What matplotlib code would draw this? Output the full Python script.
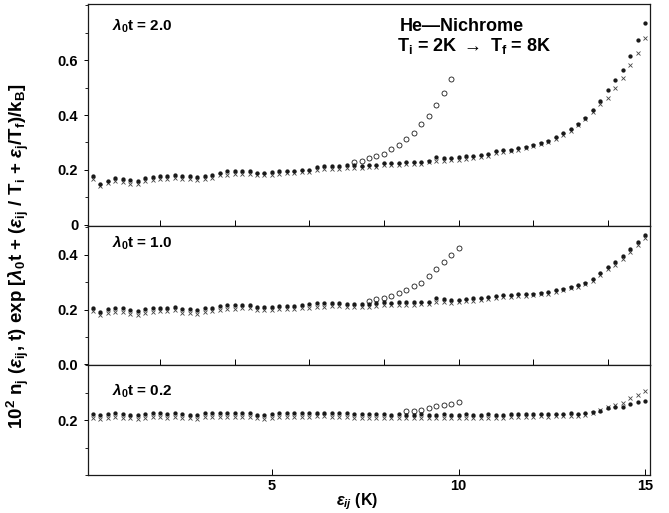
import numpy as np
import matplotlib
matplotlib.use('Agg')
import matplotlib.pyplot as plt
from matplotlib import gridspec
from matplotlib.ticker import MultipleLocator

plt.rcParams['font.family'] = ['Liberation Sans', 'DejaVu Sans']
plt.rcParams['mathtext.fontset'] = 'custom'
plt.rcParams['mathtext.rm'] = 'Liberation Sans:bold'
plt.rcParams['mathtext.it'] = 'Liberation Sans:italic:bold'
plt.rcParams['mathtext.bf'] = 'Liberation Sans:bold'

# energy grid, 0.2 K steps (75 bins)
energy = np.round(np.arange(1, 76) * 0.2, 1)

# lambda0 t = 2.0
dots_20 = [0.179, 0.149, 0.161, 0.171, 0.167, 0.163, 0.161, 0.169, 0.173, 0.177,
           0.179, 0.182, 0.179, 0.177, 0.173, 0.179, 0.182, 0.189, 0.194, 0.195,
           0.195, 0.195, 0.189, 0.189, 0.191, 0.194, 0.195, 0.197, 0.200, 0.201,
           0.209, 0.213, 0.213, 0.213, 0.216, 0.216, 0.213, 0.219, 0.219,
           0.224, 0.224, 0.225, 0.228, 0.230, 0.230, 0.234, 0.246, 0.244, 0.244,
           0.246, 0.250, 0.252, 0.255, 0.258, 0.267, 0.271, 0.274, 0.279, 0.285,
           0.292, 0.299, 0.307, 0.319, 0.334, 0.350, 0.368, 0.390, 0.417, 0.453,
           0.490, 0.527, 0.566, 0.615, 0.673, 0.735]
cross_20 = [0.165, 0.142, 0.152, 0.160, 0.155, 0.150, 0.148, 0.158, 0.163, 0.166,
            0.168, 0.170, 0.168, 0.166, 0.162, 0.168, 0.172, 0.180, 0.183, 0.185,
            0.184, 0.185, 0.180, 0.181, 0.183, 0.185, 0.187, 0.189, 0.191, 0.193,
            0.200, 0.203, 0.203, 0.204, 0.207, 0.207, 0.205, 0.210, 0.211,
            0.216, 0.217, 0.218, 0.220, 0.222, 0.223, 0.227, 0.234, 0.233, 0.235,
            0.236, 0.241, 0.244, 0.247, 0.251, 0.260, 0.265, 0.268, 0.273, 0.280,
            0.287, 0.293, 0.301, 0.313, 0.327, 0.343, 0.362, 0.385, 0.410, 0.439,
            0.463, 0.500, 0.536, 0.581, 0.628, 0.682]
circ_x_20 = energy[35:49]
circ_20 = [0.227, 0.232, 0.242, 0.251, 0.259, 0.275, 0.292, 0.311, 0.336, 0.368,
           0.396, 0.438, 0.480, 0.533]

# lambda0 t = 1.0
dots_10 = [0.207, 0.192, 0.201, 0.207, 0.204, 0.197, 0.194, 0.201, 0.204, 0.207,
           0.207, 0.210, 0.201, 0.201, 0.198, 0.204, 0.207, 0.213, 0.215, 0.215,
           0.217, 0.217, 0.209, 0.209, 0.210, 0.213, 0.213, 0.213, 0.215, 0.219,
           0.223, 0.223, 0.223, 0.225, 0.219, 0.219, 0.219, 0.222, 0.225,
           0.228, 0.225, 0.228, 0.228, 0.228, 0.229, 0.229, 0.241, 0.237, 0.235,
           0.235, 0.240, 0.241, 0.243, 0.247, 0.250, 0.252, 0.253, 0.255, 0.255,
           0.258, 0.262, 0.264, 0.270, 0.276, 0.283, 0.290, 0.298, 0.313, 0.335,
           0.357, 0.375, 0.396, 0.420, 0.448, 0.472]
cross_10 = [0.193, 0.180, 0.188, 0.192, 0.190, 0.184, 0.181, 0.188, 0.190, 0.194,
            0.195, 0.197, 0.189, 0.188, 0.185, 0.192, 0.195, 0.200, 0.202, 0.203,
            0.204, 0.205, 0.198, 0.197, 0.199, 0.201, 0.202, 0.201, 0.204, 0.207,
            0.211, 0.210, 0.212, 0.213, 0.208, 0.208, 0.209, 0.211, 0.214,
            0.217, 0.215, 0.217, 0.218, 0.218, 0.219, 0.219, 0.229, 0.226, 0.225,
            0.226, 0.231, 0.232, 0.235, 0.239, 0.243, 0.245, 0.246, 0.248, 0.249,
            0.252, 0.256, 0.258, 0.264, 0.270, 0.277, 0.284, 0.292, 0.306, 0.327,
            0.349, 0.363, 0.384, 0.410, 0.437, 0.462]
circ_x_10 = energy[37:50]
circ_10 = [0.233, 0.237, 0.241, 0.250, 0.259, 0.270, 0.286, 0.298, 0.323, 0.347,
           0.372, 0.400, 0.425]

# lambda0 t = 0.2
dots_02 = [0.223, 0.219, 0.223, 0.225, 0.223, 0.220, 0.219, 0.223, 0.225, 0.225,
           0.223, 0.227, 0.223, 0.220, 0.220, 0.225, 0.225, 0.226, 0.226, 0.226,
           0.225, 0.225, 0.220, 0.220, 0.223, 0.225, 0.225, 0.225, 0.225, 0.226,
           0.227, 0.227, 0.226, 0.225, 0.225, 0.223, 0.223, 0.223, 0.222,
           0.221, 0.220, 0.222, 0.220, 0.219, 0.221, 0.220, 0.218, 0.221, 0.219,
           0.220, 0.221, 0.220, 0.219, 0.221, 0.219, 0.219, 0.221, 0.223, 0.223,
           0.222, 0.224, 0.223, 0.224, 0.223, 0.225, 0.224, 0.226, 0.229, 0.235,
           0.244, 0.250, 0.250, 0.259, 0.265, 0.270]
cross_02 = [0.209, 0.203, 0.210, 0.211, 0.209, 0.207, 0.204, 0.210, 0.212, 0.211,
            0.210, 0.213, 0.209, 0.207, 0.205, 0.212, 0.212, 0.213, 0.213, 0.212,
            0.212, 0.212, 0.207, 0.206, 0.210, 0.212, 0.211, 0.212, 0.212, 0.213,
            0.214, 0.214, 0.213, 0.212, 0.212, 0.210, 0.210, 0.210, 0.210,
            0.209, 0.208, 0.210, 0.208, 0.207, 0.209, 0.208, 0.207, 0.209, 0.208,
            0.209, 0.210, 0.209, 0.208, 0.210, 0.209, 0.209, 0.211, 0.212, 0.213,
            0.212, 0.214, 0.213, 0.214, 0.214, 0.216, 0.216, 0.220, 0.228, 0.238,
            0.248, 0.255, 0.262, 0.280, 0.292, 0.307]
circ_x_02 = energy[42:50]
circ_02 = [0.232, 0.235, 0.238, 0.244, 0.253, 0.257, 0.261, 0.267]

panels = [
    (r'$\lambda_0$t = 2.0', dots_20, cross_20, circ_x_20, circ_20,
     (-0.004, 0.805), [0, 0.2, 0.4, 0.6], ['0', '0.2', '0.4', '0.6'], 0.90),
    (r'$\lambda_0$t = 1.0', dots_10, cross_10, circ_x_10, circ_10,
     (-0.004, 0.506), [0, 0.2, 0.4], ['0.0', '0.2', '0.4'], 0.878),
    (r'$\lambda_0$t = 0.2', dots_02, cross_02, circ_x_02, circ_02,
     (0.0, 0.40), [0.2], ['0.2'], 0.766),
]

ink = '#1a1a1a'
fig = plt.figure(figsize=(6.69, 5.13), dpi=100)
spec = gridspec.GridSpec(ncols=1, nrows=3, height_ratios=[0.809, 0.510, 0.400],
                         hspace=0, left=0.1315, right=0.9716, top=0.992, bottom=0.074)

axes = []
for i, (lab, dots, crs, cx, cy, ylim, yt, ytl, ty) in enumerate(panels):
    assert len(dots) == len(energy) and len(crs) == len(energy)
    ax = fig.add_subplot(spec[i])
    axes.append(ax)
    ax.plot(energy, crs, ls='none', marker='x', ms=2.2, mew=0.6, color='#444444')
    ax.plot(energy, dots, ls='none', marker='o', ms=3.1, mew=0, color=ink)
    ax.plot(cx, cy, ls='none', marker='o', ms=3.6, mew=0.6, mfc='none', mec=ink)
    ax.set_xlim(0.07, 15.13)
    ax.set_ylim(*ylim)
    ax.set_yticks(yt)
    ax.set_yticklabels(ytl, fontweight='bold', fontsize=10.5)
    ax.yaxis.set_minor_locator(MultipleLocator(0.1))
    ax.tick_params(axis='y', which='major', direction='out', length=3, width=0.7, pad=4)
    ax.tick_params(axis='y', which='minor', direction='out', length=2, width=0.6)
    ax.tick_params(axis='x', direction='in', length=4, width=0.7)
    for s in ax.spines.values():
        s.set_linewidth(0.9)
        s.set_color(ink)
    ax.text(0.043, ty, lab, transform=ax.transAxes, fontsize=11,
            fontweight='bold', va='center', ha='left')
    if i < 2:
        ax.tick_params(axis='x', labelbottom=False)

axes[0].text(0.555, 0.90, 'He\u2014Nichrome', transform=axes[0].transAxes,
             fontsize=13, fontweight='bold', va='center', ha='left')
axes[0].text(0.55, 0.81, r'T$_\mathrm{i}$ = 2K $\rightarrow$ T$_\mathrm{f}$ = 8K',
             transform=axes[0].transAxes, fontsize=13, fontweight='bold',
             va='center', ha='left')

axes[2].set_xticks([5, 10, 15])
axes[2].set_xticklabels(['5', '10', '15'], fontweight='bold', fontsize=10.5)
axes[2].tick_params(axis='x', pad=3)

# x title, a little left of the axes centre as in the original
fig.text(357 / 669, 1 - 502 / 513, r'$\varepsilon_{ij}$ (K)', fontsize=11.5,
         fontweight='bold', ha='center', va='center')

fig.text(0.027, 0.50,
         r'10$^2$ n$_\mathrm{j}$ ($\varepsilon_\mathrm{ij}$, t) exp [$\lambda_0$t + '
         r'($\varepsilon_\mathrm{ij}$ / T$_\mathrm{i}$ + $\varepsilon_\mathrm{j}$/T$_\mathrm{f}$)/k$_\mathrm{B}$]',
         rotation=90, fontsize=13.5, fontweight='bold', ha='center', va='center')

fig.savefig('out.png', dpi=100)
